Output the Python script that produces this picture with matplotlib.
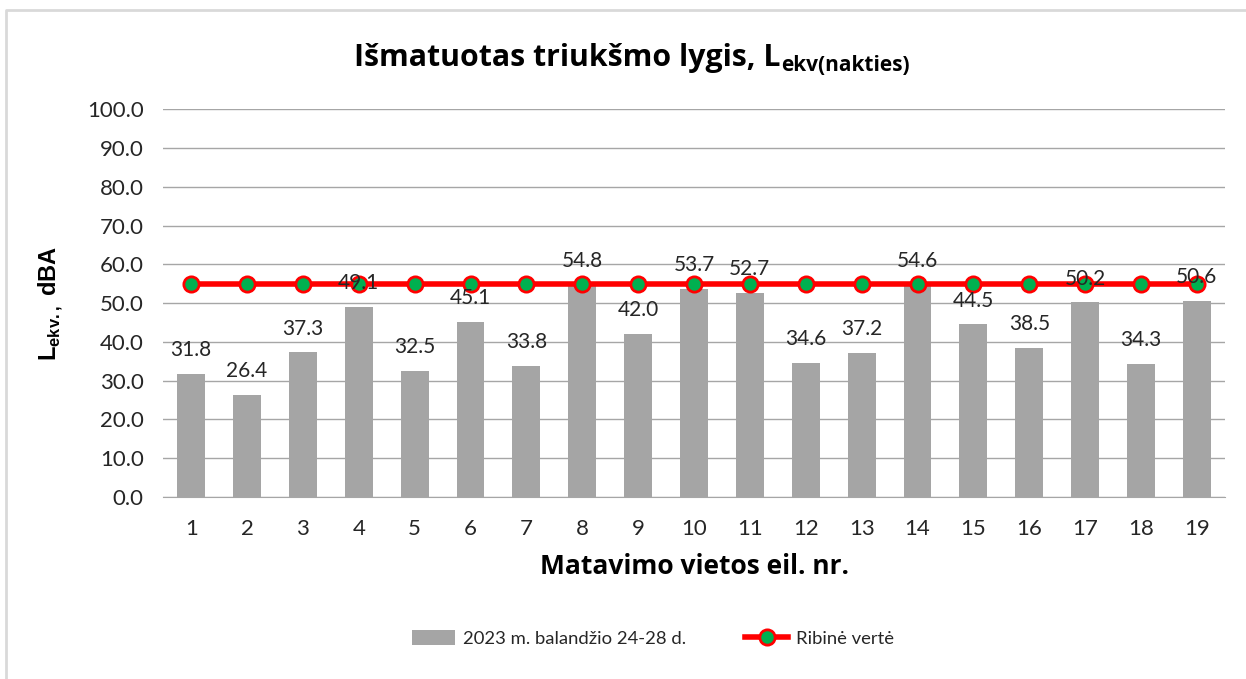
import numpy as np
import matplotlib
matplotlib.use("Agg")
import matplotlib.pyplot as plt
from matplotlib.lines import Line2D

# Duomenys
vietos = [str(i) for i in range(1, 20)]
lygis = [31.8, 26.4, 37.3, 49.1, 32.5, 45.1, 33.8, 54.8, 42.0, 53.7,
         52.7, 34.6, 37.2, 54.6, 44.5, 38.5, 50.2, 34.3, 50.6]
ribine = [55.0] * 19
y_ticks = np.arange(0, 101, 10)

plt.rcParams['font.family'] = ['Lato', 'DejaVu Sans']

fig = plt.figure(figsize=(12.46, 6.79), dpi=100)
ax = fig.add_axes([0.131, 0.268, 0.852, 0.571])

# Rėmelis (matosi tik viršus ir kairė)
fig.add_artist(Line2D([0.0045, 0.0045, 1.0], [0.0, 0.986, 0.986], transform=fig.transFigure,
                      color='#D9D9D9', linewidth=2))

x = np.arange(len(vietos))
ax.bar(x, lygis, width=0.5, color='#A5A5A5', zorder=2,
       label='2023 m. balandžio 24-28 d.')
ax.plot(x, ribine, color='#FF0000', linewidth=4, marker='o', markersize=11,
        markerfacecolor='#00B050', markeredgecolor='#FF0000', markeredgewidth=2,
        zorder=3, label='Ribinė vertė')

for xi, v in zip(x, lygis):
    ax.annotate(f'{v:.1f}', (xi, v), xytext=(0, 10), textcoords='offset points',
                ha='center', va='bottom', fontsize=15, color='#262626', zorder=4)

ax.set_xlim(-0.5, len(vietos) - 0.5)
ax.set_ylim(0, 100)
ax.set_yticks(y_ticks)
ax.set_yticklabels([f'{t:.1f}' for t in y_ticks])
ax.set_xticks(x)
ax.set_xticklabels(vietos)
ax.tick_params(axis='both', length=0, labelsize=16, labelcolor='#262626')
ax.tick_params(axis='x', pad=16)
ax.tick_params(axis='y', pad=14)
ax.grid(axis='y', color='#A6A6A6', linewidth=1, zorder=0)
ax.set_axisbelow(True)
for s in ['top', 'right', 'left']:
    ax.spines[s].set_visible(False)
ax.spines['bottom'].set_color('#A6A6A6')

# Pavadinimas iš dviejų dalių (pagrindinis + apatinis indeksas)
fig.canvas.draw()
r = fig.canvas.get_renderer()
t1 = fig.text(0, 0.903, 'Išmatuotas triukšmo lygis, L', ha='left', va='baseline',
              fontsize=21.8, fontweight='bold', family='Open Sans', color='black')
t2 = fig.text(0, 0.895, 'ekv(nakties)', ha='left', va='baseline',
              fontsize=15, fontweight='bold', family='Open Sans', color='black')
w1 = t1.get_window_extent(r).width
w2 = t2.get_window_extent(r).width
W = fig.get_figwidth() * fig.dpi
x0 = (W - w1 - w2) / 2 / W + 0.007
t1.set_x(x0)
t2.set_x(x0 + w1 / W)

ax.set_xlabel('Matavimo vietos eil. nr.', fontsize=19, fontweight='bold',
              family='Open Sans', labelpad=10)
ax.set_ylabel(r'L$_{\mathregular{ekv.,}}$ dBA', fontsize=17, fontweight='bold',
              family='Liberation Sans', labelpad=16)

h, l = ax.get_legend_handles_labels()
fig.legend(h[::-1], l[::-1], loc='center', bbox_to_anchor=(0.524, 0.06), ncol=2,
           frameon=False, fontsize=13.3, handlelength=2.35, handleheight=0.9,
           columnspacing=3.2, labelcolor='#262626', handletextpad=0.4)

fig.savefig('out.png', dpi=100)
